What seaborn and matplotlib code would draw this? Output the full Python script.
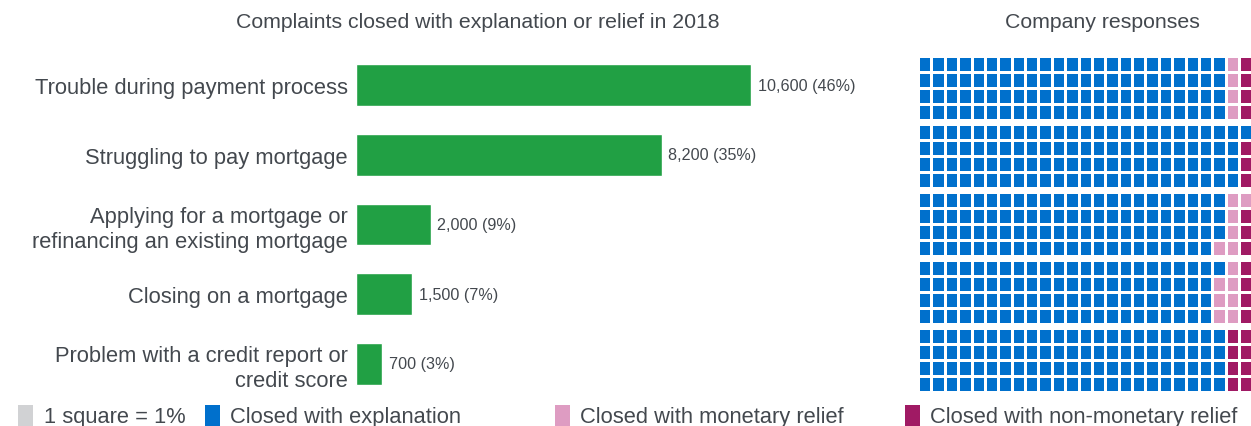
import numpy as np
import pandas as pd
import seaborn as sns
import matplotlib
matplotlib.use("Agg")
import matplotlib.pyplot as plt
from matplotlib.colors import ListedColormap
from matplotlib.patches import Rectangle

# ---- data ----
issues = [
    "Trouble during payment process",
    "Struggling to pay mortgage",
    "Applying for a mortgage or\nrefinancing an existing mortgage",
    "Closing on a mortgage",
    "Problem with a credit report or\ncredit score",
]
complaints = [10600, 8200, 2000, 1500, 700]
shares = [46, 35, 9, 7, 3]

# company responses, in percent (one square = 1%)
explanation = [92, 97, 91, 89, 92]
monetary = [4, 0, 6, 7, 0]
non_monetary = [4, 3, 3, 4, 8]

legend_labels = ["1 square = 1%", "Closed with explanation",
                 "Closed with monetary relief", "Closed with non-monetary relief"]

# ---- style ----
sns.set_theme(style="white")
plt.rcParams["font.family"] = ["Liberation Sans", "DejaVu Sans"]
TEXT = "#43484e"
GREEN = "#21a044"
BLUE = "#0070cc"
PINK = "#de9cc2"
MAROON = "#a01a64"
GRAY = "#d1d2d4"

W, H = 1251, 427
fig = plt.figure(figsize=(W / 100, H / 100), dpi=100)
fig.patch.set_facecolor("white")


def px_axes(x0, y0, x1, y1):
    """Axes from pixel box (top-left origin)."""
    return fig.add_axes([x0 / W, 1 - y1 / H, (x1 - x0) / W, (y1 - y0) / H])


# ---- bar chart ----
df = pd.DataFrame({"issue": issues, "complaints": complaints, "share": shares})
pitch = 69.7
ax = px_axes(356, 86 - pitch / 2, 356 + 14600 * 0.03726, 365 + pitch / 2)
sns.barplot(data=df, y="issue", x="complaints", orient="h", color=GREEN,
            saturation=1, width=0.6, ax=ax)
ax.set_xlim(0, 14600)
ax.set_ylim(4.5, -0.5)
ax.set_xlabel("")
ax.set_ylabel("")
ax.set_xticks([])
for s in ax.spines.values():
    s.set_visible(False)
ax.tick_params(axis="y", length=0, pad=6, labelsize=15.75, labelcolor=TEXT)
for t in ax.get_yticklabels():
    t.set_linespacing(1.25)
for i, (v, p) in enumerate(zip(complaints, shares)):
    ax.annotate(f"{v:,} ({p}%)", xy=(v, i), xytext=(5, 0), textcoords="offset points",
                va="center", ha="left", fontsize=11.6, color=TEXT)

fig.text(478 / W, 1 - 23 / H, "Complaints closed with explanation or relief in 2018",
         ha="center", va="center", fontsize=15.3, color=TEXT)
fig.text(1102 / W, 1 - 23 / H, "Company responses",
         ha="center", va="center", fontsize=15.3, color=TEXT)

# ---- waffle grids (4 rows x 25 columns, filled column by column) ----
cmap = ListedColormap([BLUE, PINK, MAROON])
centers = [89, 157, 225, 292.5, 361]
col_pitch = 13.375
for c, e, m, n in zip(centers, explanation, monetary, non_monetary):
    cells = np.array([0] * e + [1] * m + [2] * n)
    grid = cells.reshape(25, 4).T
    wax = px_axes(918, c - 32, 918 + 25 * col_pitch, c + 32)
    sns.heatmap(grid, cmap=cmap, vmin=-0.5, vmax=2.5, cbar=False,
                linewidths=0.8, linecolor="white", square=False,
                xticklabels=False, yticklabels=False, ax=wax)
    wax.set_xlabel("")
    wax.set_ylabel("")

# ---- legend ----
items = [(18, GRAY), (205, BLUE), (555, PINK), (905, MAROON)]
for (x, col), lab in zip(items, legend_labels):
    fig.patches.append(Rectangle((x / W, 1 - 427 / H), 15 / W, 21 / H,
                                 transform=fig.transFigure, color=col, lw=0))
    fig.text((x + 25 if col != GRAY else x + 26) / W, 1 - 418 / H, lab,
             ha="left", va="center", fontsize=15.75, color=TEXT)

fig.savefig("out.png", dpi=100, facecolor="white")
